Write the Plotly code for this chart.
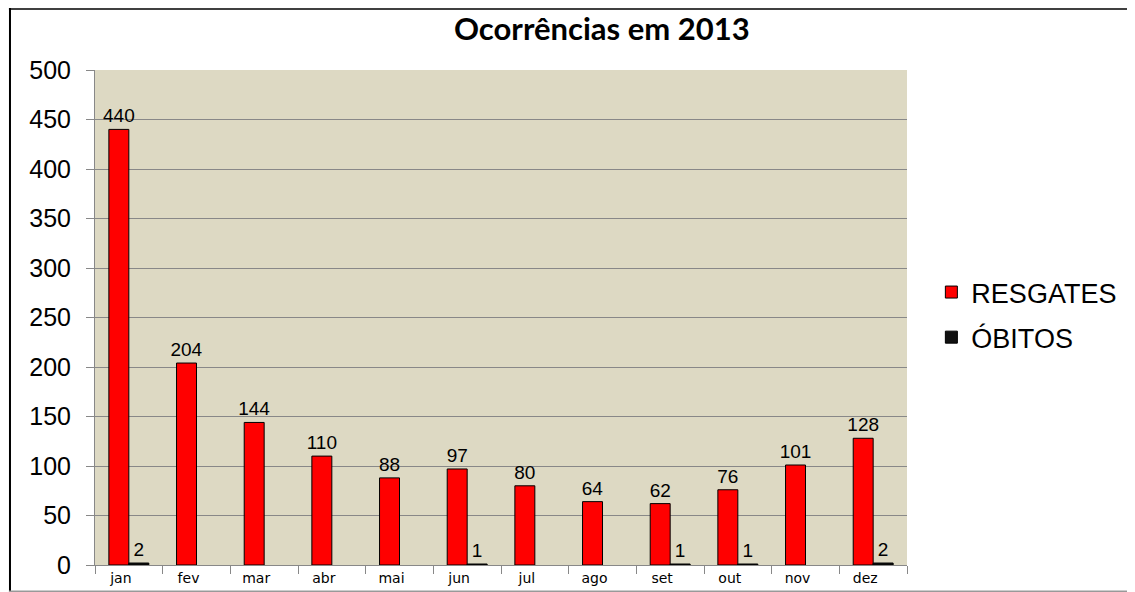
import plotly.graph_objects as go

months = ["jan", "fev", "mar", "abr", "mai", "jun", "jul", "ago", "set", "out", "nov", "dez"]
resgates = [440, 204, 144, 110, 88, 97, 80, 64, 62, 76, 101, 128]
obitos = [2, None, None, None, None, 1, None, None, 1, 1, None, 2]
title_text = "Ocorrências em 2013"
y_ticks = [0, 50, 100, 150, 200, 250, 300, 350, 400, 450, 500]

fig = go.Figure()
fig.add_trace(go.Bar(
    x=months, y=resgates, name="RESGATES", legendgroup="r",
    marker=dict(color="#FF0000", line=dict(color="#000000", width=1)),
    text=[str(v) for v in resgates], textposition="outside", constraintext="none",
    textfont=dict(family="Liberation Sans", size=19, color="#000000"),
    cliponaxis=False,
))
fig.add_trace(go.Bar(
    x=months, y=obitos, name="ÓBITOS", legendgroup="o",
    marker=dict(color="#111111", line=dict(color="#000000", width=1)),
    text=[str(v) if v is not None else "" for v in obitos], textposition="outside",
    constraintext="none",
    textfont=dict(family="Liberation Sans", size=19, color="#000000"),
    cliponaxis=False,
))

fig.update_layout(
    width=1127, height=584,
    margin=dict(l=87, r=228, t=62, b=27, autoexpand=False),
    paper_bgcolor="#FFFFFF",
    plot_bgcolor="#DDD9C3",
    barmode="group",
    bargap=0.41,
    bargroupgap=0,
    showlegend=True,
    legend=dict(
        x=1.03, y=0.6, xanchor="left", yanchor="top",
        font=dict(family="Liberation Sans", size=27, color="#000000"),
        bgcolor="rgba(0,0,0,0)", tracegroupgap=7, itemwidth=30,
    ),
    annotations=[dict(
        text="<b>" + title_text + "</b>", xref="paper", yref="paper",
        x=0.624, y=1.085, xanchor="center", yanchor="middle", showarrow=False,
        font=dict(family="Lato", size=31, color="#000000"),
    )],
    shapes=[
        dict(type="line", xref="paper", yref="paper", x0=-0.106, x1=1.3, y0=1.123, y1=1.123,
             line=dict(color="#404040", width=2)),
        dict(type="line", xref="paper", yref="paper", x0=-0.1047, x1=-0.1047, y0=-0.06, y1=1.127,
             line=dict(color="#000000", width=2)),
        dict(type="line", xref="paper", yref="paper", x0=-0.106, x1=1.3, y0=-0.0535, y1=-0.0535,
             line=dict(color="#999999", width=2)),
    ],
)

fig.update_xaxes(
    tickson="boundaries", ticks="outside", ticklen=8, tickcolor="#888888",
    showline=True, linecolor="#888888", linewidth=1,
    showgrid=False,
    tickfont=dict(family="DejaVu Sans", size=14, color="#000000"),
    ticklabelshift=-8,
)
fig.update_yaxes(
    range=[0, 500], tickvals=y_ticks, ticks="outside", ticklen=8, tickcolor="#888888",
    showline=True, linecolor="#888888", linewidth=1,
    showgrid=True, gridcolor="#888888", gridwidth=1,
    tickfont=dict(family="Liberation Sans", size=25, color="#000000"),
    ticklabelstandoff=10, zeroline=False,
)

fig.write_html("out.html")
